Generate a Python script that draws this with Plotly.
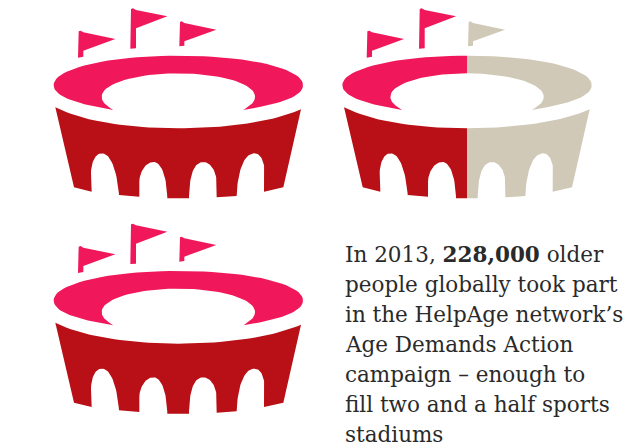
import plotly.graph_objects as go

# Data: how full each stadium is (two and a half stadiums)
stadium_fill = [1.0, 0.5, 1.0]
stadium_left = [40.0, 328.7, 40.0]
stadium_top = [0.0, 0.0, 215.3]
text_lines = [
    "In 2013, <b>228,000</b> older",
    "people globally took part",
    "in the HelpAge network’s",
    "Age Demands Action",
    "campaign – enough to",
    "fill two and a half sports",
    "stadiums",
]
text_baselines = [261.5, 291.5, 321.5, 351.5, 381.5, 411.5, 441.5]

PINK = "#F0185A"
RED = "#B81016"
GREY = "#D0C9B8"
ICON_SCALE = 3.0   # outlines are in thirds of a pixel
SPLIT_X = 411 + 4  # centre line of the icon

# Icon outlines: start point then cubic segments (c1, c2, end); 2-tuples are straight lines
ring = [(220, 330),
        ((130, 315), (41, 295), (41, 255)),
        ((41, 205), (205, 167), (415, 167)),
        ((625, 167), (789, 205), (789, 255)),
        ((789, 295), (700, 315), (610, 330)),
        ((625, 320), (645, 310), (645, 290)),
        ((645, 250), (540, 220), (415, 220)),
        ((290, 220), (185, 250), (185, 290)),
        ((185, 310), (205, 320), (220, 330))]
body = [(46, 322),
        ((130, 365), (270, 385), (415, 385)),
        ((560, 385), (700, 365), (783, 328)),
        (730, 562), (672, 575),
        ((672, 560), (672, 540), (674, 520)),
        ((674, 490), (665, 460), (643, 460)),
        ((610, 460), (592, 520), (590, 588)),
        (530, 592),
        ((530, 570), (530, 555), (530, 545)),
        ((528, 510), (510, 486), (490, 486)),
        ((465, 486), (448, 515), (447, 595)),
        (382, 595),
        ((380, 530), (365, 486), (340, 486)),
        ((315, 486), (298, 520), (298, 545)),
        (298, 590), (237, 585),
        ((232, 520), (215, 460), (185, 460)),
        ((165, 460), (153, 490), (153, 520)),
        (155, 575), (102, 562), (46, 322)]
flags = [
    [(114, 173), (114, 100), (116, 94), (122, 92), (130, 97), (226, 117), (130, 152), (130, 170)],
    [(271, 146), (271, 32), (273, 27), (279, 25), (288, 30), (382, 49), (288, 85), (288, 145)],
    [(418, 139), (418, 70), (420, 66), (425, 64), (433, 69), (529, 89), (433, 124), (433, 137)],
]


def sample(outline, n=24):
    pts = [outline[0]]
    for seg in outline[1:]:
        if isinstance(seg[0], tuple):
            p0 = pts[-1]
            c1, c2, p3 = seg
            for i in range(1, n + 1):
                t = i / n
                u = 1 - t
                pts.append(tuple(u**3 * p0[k] + 3 * u * u * t * c1[k] + 3 * u * t * t * c2[k] + t**3 * p3[k]
                                 for k in (0, 1)))
        else:
            pts.append(seg)
    return pts


def clip(pts, split, keep_left):
    def inside(p):
        return p[0] <= split if keep_left else p[0] >= split
    out = []
    for i, p in enumerate(pts):
        q = pts[(i + 1) % len(pts)]
        if inside(p):
            out.append(p)
        if inside(p) != inside(q):
            t = (split - p[0]) / (q[0] - p[0])
            out.append((split, p[1] + t * (q[1] - p[1])))
    return out


fig = go.Figure()


def add(pts, left, top, color):
    if not pts:
        return
    xs = [left + p[0] / ICON_SCALE for p in pts] + [left + pts[0][0] / ICON_SCALE]
    ys = [top + p[1] / ICON_SCALE for p in pts] + [top + pts[0][1] / ICON_SCALE]
    fig.add_trace(go.Scatter(x=xs, y=ys, mode="lines", fill="toself", fillcolor=color,
                             line=dict(width=0, color=color), hoverinfo="skip", showlegend=False))


for frac, left, top in zip(stadium_fill, stadium_left, stadium_top):
    parts = [(sample(ring), PINK), (sample(body), RED)] + [(f, PINK) for f in flags]
    for pts, color in parts:
        if frac >= 1:
            add(pts, left, top, color)
        else:
            add(clip(pts, SPLIT_X, True), left, top, color)
            add(clip(pts, SPLIT_X, False), left, top, GREY)

for line, base in zip(text_lines, text_baselines):
    fig.add_annotation(x=344, y=base, text=line, xref="x", yref="y", xanchor="left", yanchor="bottom",
                       showarrow=False, borderpad=0, yshift=-6,
                       font=dict(family="DejaVu Serif", size=21.5, color="#2A2A2A"))

fig.update_layout(
    width=629, height=446, autosize=False,
    margin=dict(l=0, r=0, t=0, b=0),
    paper_bgcolor="white", plot_bgcolor="white",
    xaxis=dict(range=[0, 629], visible=False, fixedrange=True),
    yaxis=dict(range=[446, 0], visible=False, fixedrange=True),
    showlegend=False,
)
fig.write_html("out.html", config={"displayModeBar": False},
               post_script="document.body.style.margin='0';document.body.style.overflow='hidden';")
